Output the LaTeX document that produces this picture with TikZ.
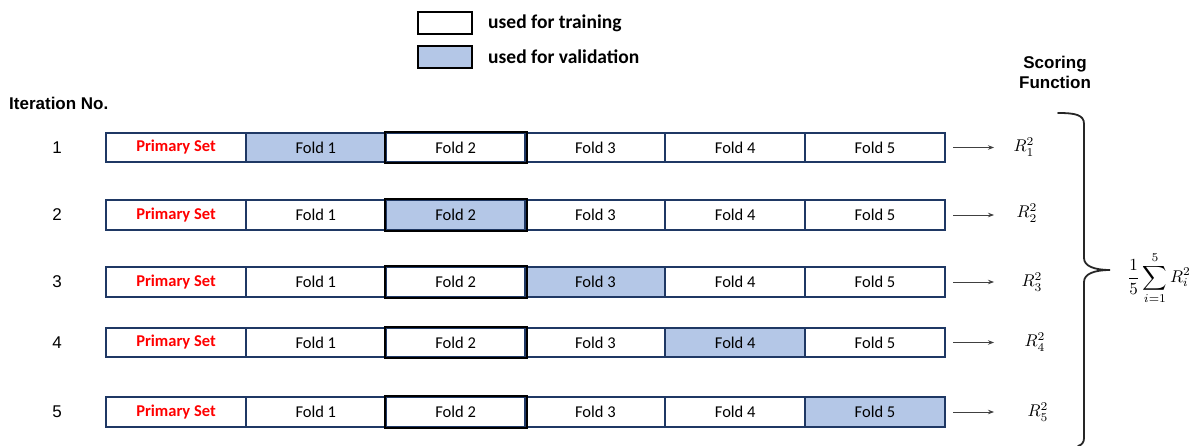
\documentclass[tikz,border=0pt]{standalone}
\usepackage[no-math]{fontspec}
\usepackage{graphicx}
\setmainfont{Carlito}
\newfontfamily\arialf{Liberation Sans}
\usetikzlibrary{arrows.meta}
\definecolor{navy}{HTML}{1F3864}
\definecolor{valblue}{HTML}{B4C7E7}
\definecolor{redtxt}{HTML}{FF0000}
\newcommand{\cellfnt}{\fontsize{16.5}{20}\selectfont}
\newcommand{\legfnt}{\fontsize{19.5}{23}\selectfont\bfseries}
\newcommand{\hdfnt}{\arialf\fontsize{17}{20}\selectfont\bfseries}
\newcommand{\numfnt}{\arialf\fontsize{17}{20}\selectfont}
\newcommand{\bigmath}[1]{\scalebox{1.7}{#1}}
\tikzset{
  cell/.style={draw=navy, line width=2.2pt, fill=white, minimum width=139.8pt,
    minimum height=29.5pt, inner sep=0pt, anchor=west, font=\cellfnt},
  valcell/.style={cell, fill=valblue},
  blackframe/.style={draw=black, line width=2.0pt},
  legbox/.style={draw=black, line width=2.5pt, minimum width=54pt, minimum height=22pt, inner sep=0pt},
  legtext/.style={anchor=west, inner sep=0pt, font=\legfnt},
  arr/.style={-{Stealth[length=6pt,width=4.5pt]}, line width=0.8pt, draw=black!75},
  rlab/.style={inner sep=0pt},
  itnum/.style={inner sep=0pt, font=\numfnt},
}
\begin{document}
\begin{tikzpicture}[x=1pt,y=-1pt]
\useasboundingbox (0,0) rectangle (1192,446);
% legend
\node[legbox, fill=white] (lt) at (445,23) {};
\node[legbox, fill=valblue] (lv) at (445,57) {};
\node[legtext] (ltt) at (488,23) {used for training};
\node[legtext] (lvt) at (488,57) {used for validation};
% headings
\node[anchor=west, inner sep=0pt, font=\hdfnt] (iter) at (9,103) {Iteration No.};
\node[align=center, inner sep=0pt, font=\hdfnt] (score) at (1055,72) {Scoring\\Function};
% rows
\foreach \r/\y/\rx/\ry in {1/147.5/1024/147, 2/215/1027/213, 3/282/1032/282, 4/342.5/1035/342, 5/412/1038/412}{
  \node[itnum] (n\r) at (57,\y) {\r};
  \node[cell] (r\r c0) at (105,\y) {\textcolor{redtxt}{\bfseries Primary Set}};
  \foreach \c in {1,...,5}{
    \pgfmathsetmacro{\xx}{105+\c*139.8}
    \ifnum\c=\r
      \node[valcell] (r\r c\c) at (\xx,\y) {Fold \c};
    \else
      \node[cell] (r\r c\c) at (\xx,\y) {Fold \c};
    \fi
  }
  \draw[blackframe] (r\r c2.north west) rectangle (r\r c2.south east);
  \node[rlab] (R\r) at (\rx,\ry) {\bigmath{$R_{\r}^{2}$}};
  \coordinate (a\r) at (994,\y);
  \draw[arr] ([xshift=7pt]r\r c5.east) -- (a\r);
}
% brace
\draw[line width=1.8pt, draw=black!85, line cap=round]
  (1058,113) .. controls (1076,113) and (1084,115) .. (1084,124)
  -- (1084,258) .. controls (1084,266) and (1094,270) .. (1110,270)
  .. controls (1094,270) and (1084,274) .. (1084,282)
  -- (1084,438) .. controls (1084,442) and (1082,445) .. (1078,446);
\node[rlab] (sum) at (1159,278) {\bigmath{$\displaystyle\frac{1}{5}\sum_{i=1}^{5}R_i^2$}};
\end{tikzpicture}
\end{document}
